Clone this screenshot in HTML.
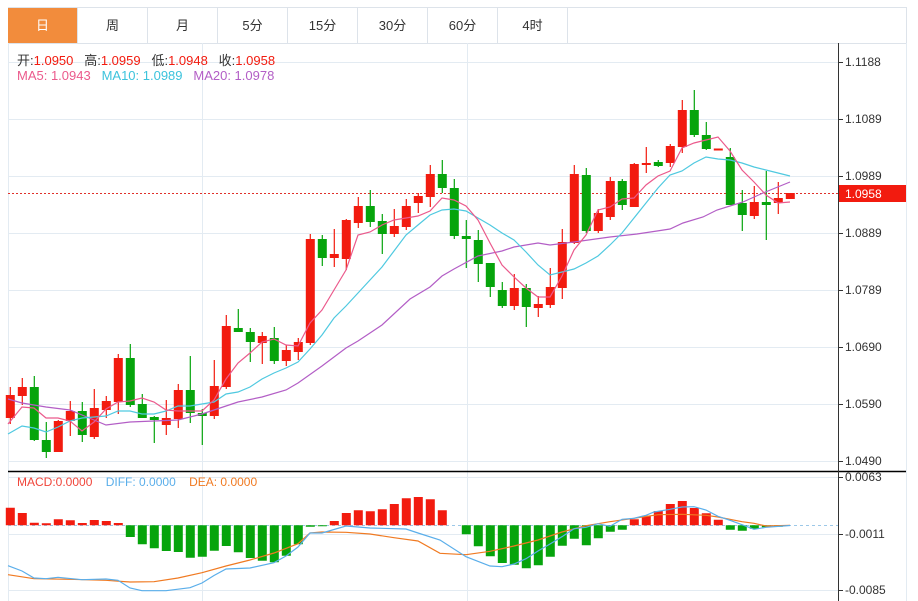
<!DOCTYPE html>
<html><head><meta charset="utf-8"><style>
html,body{margin:0;padding:0;background:#fff;width:918px;height:601px;overflow:hidden;font-family:"Liberation Sans","Noto Sans CJK SC",sans-serif}
.tabs{position:absolute;left:8px;top:7px;width:898px;height:35px;display:flex;border-top:1px solid #dde3ea;border-bottom:1px solid #dde3ea;border-right:1px solid #dde3ea;box-sizing:content-box}
.tab{width:69px;border-right:1px solid #dde3ea;text-align:center;line-height:35px;font-size:13px;color:#333;flex:none}
.tab.on{background:#f28c3c;color:#fff}
.tab.last{flex:1;border-right:none}
.info{position:absolute;left:17px;font-size:13px;white-space:nowrap}
</style></head><body>
<div class="tabs"><div class="tab on">日</div><div class="tab">周</div><div class="tab">月</div><div class="tab">5分</div><div class="tab">15分</div><div class="tab">30分</div><div class="tab">60分</div><div class="tab">4时</div><div class="tab last"></div></div>
<svg width="918" height="601" style="position:absolute;left:0;top:0" xmlns="http://www.w3.org/2000/svg">
<g stroke="#e3ebf2" stroke-width="1">
<path d="M8 62.5H838M8 119.5H838M8 176.5H838M8 233.5H838M8 290.5H838M8 347.5H838M8 404.5H838M8 461.5H838M8 477.5H838M8 534.5H838M8 590.5H838"/>
<path d="M202.5 43V601M467.5 43V601M8.5 43V601M906.5 43V601"/>
</g>
<path d="M8 193.5H838" stroke="#e0302a" stroke-dasharray="2,2"/>
<path d="M8 525.5H838" stroke="#9cc8e8" stroke-dasharray="3,3"/>
<g fill="#f21b0f" stroke="#f21b0f" stroke-width="1.2">
<path fill="none" d="M10.3 387V424M22.3 378V405M58.3 420V452M70.3 401V436M94.3 389V439M106.3 396V418M118.3 354V414M166.3 400V435M178.3 384V428M214.3 360V419M226.3 315V389M262.3 332V364M286.3 345V366M298.3 338V360M310.3 234V345M334.3 229V267M346.3 219V270M358.3 197V228M394.3 209V237M406.3 199V230M418.3 193V213M430.3 165V207M514.3 274V310M538.3 296V317M550.3 268V308M562.3 229V299M574.3 165V244M598.3 209V233M610.3 177V220M634.3 163V207M646.3 147V173M670.3 144V167M682.3 100V153M754.3 186V219M778.3 182V214"/>
</g>
<g fill="#f21b0f">
<path d="M5.8 395h9V418h-9ZM17.8 387h9V396h-9ZM53.8 421h9V452h-9ZM65.8 411h9V421h-9ZM89.8 408h9V437h-9ZM101.8 401h9V410h-9ZM113.8 358h9V402h-9ZM161.8 418h9V425h-9ZM173.8 390h9V419h-9ZM209.8 386h9V416h-9ZM221.8 326h9V387h-9ZM257.8 336h9V343h-9ZM281.8 350h9V361h-9ZM293.8 342h9V352h-9ZM305.8 239h9V343h-9ZM329.8 254h9V258h-9ZM341.8 220h9V259h-9ZM353.8 206h9V223h-9ZM389.8 226h9V234h-9ZM401.8 206h9V227h-9ZM413.8 196h9V203h-9ZM425.8 174h9V197h-9ZM509.8 288h9V306h-9ZM533.8 304h9V308h-9ZM545.8 287h9V305h-9ZM557.8 242h9V288h-9ZM569.8 174h9V243h-9ZM593.8 213h9V231h-9ZM605.8 181h9V217h-9ZM629.8 164h9V207h-9ZM641.8 163h9V165h-9ZM665.8 146h9V163h-9ZM677.8 110h9V147h-9ZM713.8 148.5h9V150.5h-9ZM749.8 202h9V216h-9ZM773.8 198h9V203h-9ZM785.8 193h9V199h-9Z"/>
</g>
<g stroke="#06a40c" stroke-width="1.2" fill="none">
<path d="M34.3 376V441M46.3 422V458M82.3 402V442M130.3 344V407M142.3 394V418M154.3 416V443M190.3 356V423M202.3 409V445M238.3 309V332M250.3 328V362M274.3 327V364M322.3 235V266M370.3 190V227M382.3 214V254M442.3 160V193M454.3 179V239M466.3 220V268M478.3 230V282M490.3 263V297M502.3 282V308M526.3 284V327M586.3 168V233M622.3 179V210M658.3 160V167M694.3 90V137M706.3 122V150M730.3 148V205M742.3 190V231M766.3 171V240"/>
</g>
<g fill="#06a40c">
<path d="M29.8 387h9V440h-9ZM41.8 440h9V452h-9ZM77.8 411h9V435h-9ZM125.8 358h9V405h-9ZM137.8 404h9V418h-9ZM149.8 417h9V420h-9ZM185.8 390h9V413h-9ZM197.8 413h9V416h-9ZM233.8 328h9V332h-9ZM245.8 332h9V342h-9ZM269.8 338h9V361h-9ZM317.8 239h9V258h-9ZM365.8 206h9V222h-9ZM377.8 221h9V234h-9ZM437.8 174h9V188h-9ZM449.8 188h9V236h-9ZM461.8 236h9V239h-9ZM473.8 240h9V264h-9ZM485.8 263h9V287h-9ZM497.8 290h9V306h-9ZM521.8 288h9V307h-9ZM581.8 175h9V231h-9ZM617.8 181h9V205h-9ZM653.8 162h9V166h-9ZM689.8 110h9V135h-9ZM701.8 135h9V149h-9ZM725.8 157h9V205h-9ZM737.8 203h9V215h-9ZM761.8 202h9V205h-9Z"/>
</g>
<g fill="none" stroke-width="1.2">
<polyline stroke="#b35ec6" points="8,399 22,403 46,407 70,410 94,420 106,425 130,422 154,421 178,420 202,414 214,410 238,402 262,397 286,390 298,383 322,366 346,348 358,341 382,325 410,299 430,287 442,276 454,269 478,256 502,251 514,247 538,243 550,245 574,242 610,237 637,234 657,231 670,229 683,223 703,217 717,210 730,206 743,202 763,193 790,182"/>
<polyline stroke="#4fc9e0" points="8,434 22,426 34,428 46,432 58,427 70,421 82,418 94,417 106,416 118,411 130,411 142,414 154,414 166,411 178,406 190,406 202,404 214,402 226,394 238,392 250,387 262,379 274,373 286,368 298,362 310,349 322,335 334,318 346,306 358,293 370,280 382,267 394,251 406,235 418,225 430,215 442,210 454,209 466,211 478,218 490,225 502,233 514,240 526,252 538,265 550,275 562,272 574,269 586,263 598,256 610,245 622,233 634,218 646,203 658,188 670,175 682,171 694,163 706,157 718,159 730,160 742,163 754,167 766,170 778,173 790,176"/>
<polyline stroke="#eb5a8c" points="8,424 22,407 34,408 46,418 58,418 70,421 82,431 94,422 106,409 118,402 130,401 142,398 154,402 166,410 178,411 190,411 202,411 214,400 226,379 238,363 250,353 262,342 274,339 286,345 298,346 310,323 322,310 334,290 346,270 358,235 370,232 382,225 394,220 406,218 418,216 430,211 442,198 454,200 466,206 478,220 490,243 502,265 514,277 526,288 538,297 550,297 562,276 574,250 586,235 598,210 610,207 622,199 634,198 646,185 658,176 670,171 682,148 694,143 706,140 718,137 730,151 742,170 754,182 766,195 778,203 790,202"/>
</g>
<g fill="#f21b0f">
<path d="M5.8 507.7h9V525.3h-9ZM17.8 513h9V525.3h-9ZM29.8 522.7h9V525.3h-9ZM41.8 523.3h9V525.3h-9ZM53.8 519.3h9V525.3h-9ZM65.8 520.3h9V525.3h-9ZM77.8 523h9V525.3h-9ZM89.8 520h9V525.3h-9ZM101.8 521h9V525.3h-9ZM113.8 523h9V525.3h-9ZM329.8 521h9V525.3h-9ZM341.8 513h9V525.3h-9ZM353.8 510.3h9V525.3h-9ZM365.8 511.3h9V525.3h-9ZM377.8 509.3h9V525.3h-9ZM389.8 504h9V525.3h-9ZM401.8 498.3h9V525.3h-9ZM413.8 497h9V525.3h-9ZM425.8 499.3h9V525.3h-9ZM437.8 510.3h9V525.3h-9ZM629.8 519.3h9V525.3h-9ZM641.8 515.7h9V525.3h-9ZM653.8 511h9V525.3h-9ZM665.8 504h9V525.3h-9ZM677.8 501h9V525.3h-9ZM689.8 508h9V525.3h-9ZM701.8 513.3h9V525.3h-9ZM713.8 519.7h9V525.3h-9Z"/>
</g>
<g fill="#06a40c">
<path d="M125.8 525.3h9V537h-9ZM137.8 525.3h9V544.3h-9ZM149.8 525.3h9V548.3h-9ZM161.8 525.3h9V551h-9ZM173.8 525.3h9V552h-9ZM185.8 525.3h9V557.7h-9ZM197.8 525.3h9V556.7h-9ZM209.8 525.3h9V550.7h-9ZM221.8 525.3h9V546h-9ZM233.8 525.3h9V552.3h-9ZM245.8 525.3h9V558h-9ZM257.8 525.3h9V560.7h-9ZM269.8 525.3h9V562.3h-9ZM281.8 525.3h9V555.7h-9ZM293.8 525.3h9V544.3h-9ZM305.8 525.3h9V526.7h-9ZM317.8 525.3h9V526.3h-9ZM461.8 525.3h9V534.3h-9ZM473.8 525.3h9V546.3h-9ZM485.8 525.3h9V556.3h-9ZM497.8 525.3h9V563h-9ZM509.8 525.3h9V564.7h-9ZM521.8 525.3h9V568.3h-9ZM533.8 525.3h9V565.3h-9ZM545.8 525.3h9V556.7h-9ZM557.8 525.3h9V545.7h-9ZM569.8 525.3h9V538.7h-9ZM581.8 525.3h9V545.3h-9ZM593.8 525.3h9V538.3h-9ZM605.8 525.3h9V531.7h-9ZM617.8 525.3h9V529.7h-9ZM725.8 525.3h9V529.7h-9ZM737.8 525.3h9V530.7h-9ZM749.8 525.3h9V528.7h-9ZM761.8 525.3h9V527.3h-9ZM773.8 525.3h9V526.7h-9Z"/>
</g>
<g fill="none" stroke-width="1.2">
<polyline stroke="#f07a22" points="8,574.7 34,578.7 70,579.3 106,580.3 130,582 154,581.7 178,578 202,572.7 226,566 250,560 274,553 298,543.7 310,533 322,532 346,532.3 370,534 394,537.7 418,541 440,553.3 466,554.7 490,551.3 514,546 538,540 562,532 586,525.7 610,521.7 634,518.3 658,514.7 682,514.3 706,515.3 718,517 742,521.7 754,523.3 766,526 790,525.3"/>
<polyline stroke="#5aaeea" points="8,565.7 22,571 34,578 46,578.7 58,577.3 82,579.7 106,579 118,580.3 130,588 142,590.7 166,590.7 190,587.7 202,583 214,575.5 226,569 250,568 274,562.7 286,556 298,547 310,533 322,533 346,526 370,528 406,529 418,533 440,540 466,556.7 490,566 502,566.7 514,564 526,558.7 538,551 550,544 562,536.7 574,528.7 586,527.3 598,523.7 610,526.3 622,519.3 634,518.3 646,515.3 654,512 670,509.3 682,507 694,506.7 706,510 718,516.3 730,520.3 742,524.7 754,529.3 766,527.3 790,525.5"/>
</g>
<path d="M8 471.5H906" stroke="#000" stroke-width="1.5"/>
<path d="M838.5 43V601" stroke="#333" stroke-width="1"/>
<g stroke="#333"><path d="M838 62.5h5M838 119.5h5M838 176.5h5M838 233.5h5M838 290.5h5M838 347.5h5M838 404.5h5M838 461.5h5M838 477.5h5M838 534.5h5M838 590.5h5"/></g>
<g font-size="12" fill="#333" font-family="Liberation Sans,sans-serif">
<text x="845" y="66">1.1188</text><text x="845" y="123">1.1089</text><text x="845" y="180">1.0989</text><text x="845" y="237">1.0889</text><text x="845" y="294">1.0789</text><text x="845" y="351">1.0690</text><text x="845" y="408">1.0590</text><text x="845" y="465">1.0490</text>
<text x="845" y="481">0.0063</text><text x="845" y="538">-0.0011</text><text x="845" y="594">-0.0085</text>
</g>
<rect x="839" y="185" width="67" height="17" fill="#f21b0f"/>
<text x="845" y="198" font-size="12" fill="#fff" font-family="Liberation Sans,sans-serif">1.0958</text>
</svg>
<div class="info" style="top:50px;color:#333">开:<span style="color:#f21b0f">1.0950</span>&nbsp;&nbsp; 高:<span style="color:#f21b0f">1.0959</span>&nbsp;&nbsp; 低:<span style="color:#f21b0f">1.0948</span>&nbsp;&nbsp; 收:<span style="color:#f21b0f">1.0958</span></div>
<div class="info" style="top:68px"><span style="color:#eb5a8c">MA5: 1.0943</span>&nbsp;&nbsp; <span style="color:#3cc3dc">MA10: 1.0989</span>&nbsp;&nbsp; <span style="color:#b35ec6">MA20: 1.0978</span></div>
<div class="info" style="top:475px;font-size:12px"><span style="color:#f0453a">MACD:0.0000</span>&nbsp;&nbsp;&nbsp; <span style="color:#5aaeea">DIFF: 0.0000</span>&nbsp;&nbsp;&nbsp; <span style="color:#f07a22">DEA: 0.0000</span></div>
</body></html>
